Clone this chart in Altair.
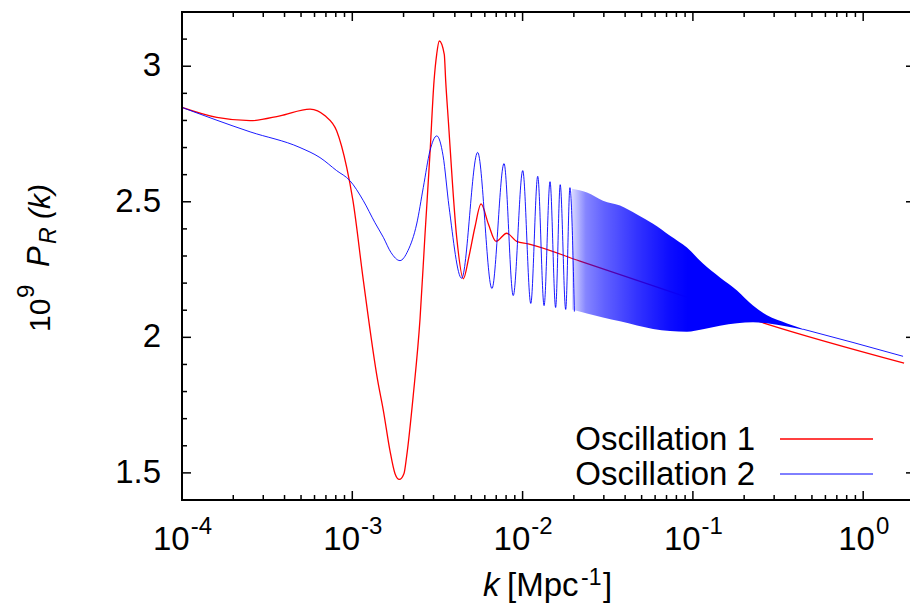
import altair as alt
import pandas as pd

FONT = "Liberation Sans"

# ---------------- data ----------------
# Oscillation 1 (red)
red_k = [1.00e-4, 1.60e-4, 2.51e-4, 3.76e-4, 5.65e-4, 6.92e-4, 8.09e-4, 9.27e-4,
         1.009e-3, 1.161e-3, 1.409e-3, 1.521e-3, 1.663e-3, 1.780e-3, 1.888e-3, 2.012e-3,
         2.084e-3, 2.280e-3, 2.500e-3, 2.673e-3, 2.858e-3, 3.020e-3, 3.130e-3, 3.243e-3,
         3.468e-3, 3.535e-3, 3.664e-3, 4.102e-3, 4.487e-3, 4.842e-3, 5.248e-3, 5.702e-3,
         6.295e-3, 6.982e-3, 8.072e-3, 9.226e-3, 1.079e-2, 2.173e-2, 8.395e-2, 0.2723, 1.738]
red_p = [2.848, 2.811, 2.799, 2.817, 2.842, 2.817, 2.762, 2.627,
         2.504, 2.210, 1.841, 1.731, 1.583, 1.498, 1.476, 1.498,
         1.560, 1.786, 2.070, 2.380, 2.677, 2.946, 3.044, 3.093,
         3.044, 2.946, 2.799, 2.369, 2.216, 2.298, 2.406, 2.492,
         2.418, 2.354, 2.384, 2.354, 2.345, 2.281, 2.157, 2.049, 1.905]

# Oscillation 2 (blue), resolved oscillations
blue_k = [1.00e-4, 2.51e-4, 4.93e-4, 6.46e-4, 8.09e-4, 9.68e-4, 1.161e-3, 1.358e-3,
          1.521e-3, 1.687e-3, 1.905e-3, 2.123e-3, 2.388e-3, 2.612e-3, 2.858e-3,
          3.133e-3, 3.412e-3, 3.698e-3, 4.385e-3, 5.445e-3, 6.607e-3, 7.780e-3,
          8.810e-3, 1.002e-2, 1.117e-2, 1.227e-2, 1.337e-2, 1.449e-2, 1.563e-2,
          1.663e-2, 1.791e-2, 1.897e-2, 2.014e-2]
blue_p = [2.848, 2.758, 2.700, 2.663, 2.615, 2.578, 2.504, 2.423,
          2.369, 2.313, 2.283, 2.320, 2.418, 2.553, 2.688,
          2.743, 2.670, 2.482, 2.218, 2.682, 2.180, 2.641,
          2.154, 2.615, 2.125, 2.594, 2.117, 2.574, 2.110,
          2.563, 2.103, 2.552, 2.095]

# Oscillation 2, dense oscillation band (upper / lower envelope)
band_k = [1.950e-2, 2.388e-2, 2.965e-2, 3.733e-2, 4.699e-2, 5.834e-2, 7.345e-2,
          9.226e-2, 0.1146, 0.1442, 0.1816, 0.2254, 0.2723, 0.3573, 0.4436]
band_hi = [2.548, 2.534, 2.504, 2.486, 2.453, 2.419, 2.375,
           2.331, 2.272, 2.221, 2.173, 2.117, 2.081, 2.051, 2.031]
band_lo = [2.103, 2.088, 2.073, 2.059, 2.044, 2.031, 2.023,
           2.021, 2.030, 2.043, 2.052, 2.056, 2.052, 2.040, 2.028]

# Oscillation 2, tail after the oscillations die out
tail_k = [0.4436, 0.871, 1.714]
tail_p = [2.030, 1.981, 1.930]

series_names = ["Oscillation 1", "Oscillation 2"]
series_colors = ["#ff0000", "#0000ff"]

# axis ticks / labels
y_major = [1.5, 2.0, 2.5, 3.0]
y_major_text = ["1.5", "2", "2.5", "3"]
y_minor = [1.6, 1.7, 1.8, 1.9, 2.1, 2.2, 2.3, 2.4, 2.6, 2.7, 2.8, 2.9, 3.1]
x_major = [1e-4, 1e-3, 1e-2, 1e-1]
x_major_exp = ["-4", "-3", "-2", "-1"]
x_zero = [1.0]
x_zero_exp = ["0"]
X_MAX = 1.883
x_minor = [m * 10.0 ** e for e in range(-4, 1) for m in range(2, 10) if m * 10.0 ** e < X_MAX]

# ---------------- chart ----------------
W, H = 728, 488
xs = alt.Scale(type="log", domain=[1e-4, X_MAX], nice=False)
ys = alt.Scale(domain=[1.4, 3.2], nice=False, zero=False)


def X(f):
    return alt.X(f, scale=xs, axis=None)


def Y(f):
    return alt.Y(f, scale=ys, axis=None)


red = alt.Chart(pd.DataFrame({"k": red_k, "p": red_p})).mark_line(
    color=series_colors[0], strokeWidth=1.3, interpolate="monotone"
).encode(x=X("k:Q"), y=Y("p:Q"))

band = alt.Chart(pd.DataFrame({"k": band_k, "hi": band_hi, "lo": band_lo})).mark_area(
    interpolate="monotone",
    color=alt.Gradient(
        gradient="linear", x1=0, x2=1, y1=0, y2=0,
        stops=[
            alt.GradientStop(color="rgba(0,0,255,0.15)", offset=0),
            alt.GradientStop(color="rgba(0,0,255,0.48)", offset=0.06),
            alt.GradientStop(color="rgba(0,0,255,0.62)", offset=0.14),
            alt.GradientStop(color="rgba(0,0,255,0.80)", offset=0.28),
            alt.GradientStop(color="rgba(0,0,255,0.95)", offset=0.42),
            alt.GradientStop(color="rgba(0,0,255,1)", offset=0.50),
            alt.GradientStop(color="rgba(0,0,255,1)", offset=1),
        ],
    ),
).encode(x=X("k:Q"), y=Y("hi:Q"), y2="lo:Q")

blue = alt.Chart(pd.DataFrame({"k": blue_k, "p": blue_p})).mark_line(
    color=series_colors[1], strokeWidth=0.9, interpolate="monotone"
).encode(x=X("k:Q"), y=Y("p:Q"))

tail = alt.Chart(pd.DataFrame({"k": tail_k, "p": tail_p})).mark_line(
    color=series_colors[1], strokeWidth=0.9, interpolate="monotone"
).encode(x=X("k:Q"), y=Y("p:Q"))


def yticks(vals, x1, x2):
    return alt.Chart(pd.DataFrame({"v": vals})).mark_rule(color="black", strokeWidth=1.5).encode(
        y=Y("v:Q"), x=alt.value(x1), x2=alt.value(x2))


def xticks(vals, y1, y2):
    return alt.Chart(pd.DataFrame({"v": vals})).mark_rule(color="black", strokeWidth=1.5).encode(
        x=X("v:Q"), y=alt.value(y1), y2=alt.value(y2))


def one():
    return pd.DataFrame({"v": [0]})


borders = [
    alt.Chart(one()).mark_rule(color="black", strokeWidth=2).encode(
        x=alt.value(0), x2=alt.value(W), y=alt.value(0)),
    alt.Chart(one()).mark_rule(color="black", strokeWidth=2).encode(
        x=alt.value(0), x2=alt.value(W), y=alt.value(H)),
    alt.Chart(one()).mark_rule(color="black", strokeWidth=2).encode(
        x=alt.value(0), y=alt.value(-1), y2=alt.value(H + 1)),
]

all_x_major = x_major + x_zero
ticks = [
    yticks(y_major, 0, 9), yticks(y_minor, 0, 5), yticks(y_major, W - 4, W),
    xticks(all_x_major, H, H - 9), xticks(x_minor, H, H - 5),
    xticks(all_x_major, 0, 9), xticks(x_minor, 0, 5),
]

ylabels = alt.Chart(pd.DataFrame({"v": y_major, "t": y_major_text})).mark_text(
    font=FONT, fontSize=33, align="right", baseline="middle", color="black", dx=-21
).encode(x=alt.value(0), y=Y("v:Q"), text="t:N")


def xlabels(vals, exps, dx10):
    df = pd.DataFrame({"k": vals, "base": ["10"] * len(vals), "e": exps})
    base = alt.Chart(df).mark_text(font=FONT, fontSize=33, align="right", baseline="alphabetic",
                                   dx=dx10, color="black").encode(
        x=X("k:Q"), y=alt.value(538), text="base:N")
    sup = alt.Chart(df).mark_text(font=FONT, fontSize=24, align="left", baseline="alphabetic",
                                  dx=dx10 + 1, color="black").encode(
        x=X("k:Q"), y=alt.value(522), text="e:N")
    return [base, sup]


def txt(s, x, y, size, italic=False, angle=0, align="left"):
    return alt.Chart(pd.DataFrame({"t": [s]})).mark_text(
        font=FONT, fontSize=size, fontStyle="italic" if italic else "normal",
        angle=angle, align=align, baseline="alphabetic", color="black"
    ).encode(x=alt.value(x), y=alt.value(y), text="t:N")


labels = xlabels(x_major, x_major_exp, 7.7) + xlabels(x_zero, x_zero_exp, 11.7)

# x axis title: k [Mpc^-1]
xtitle = [
    txt("k", 301, 584, 33, italic=True),
    txt("[Mpc", 325, 584, 33),
    txt("-1", 399, 573, 23),
    txt("]", 421, 584, 33),
]
# y axis title: 10^9 P_R (k)
ytitle = [
    txt("10", -132, 320, 30, angle=270),
    txt("9", -148, 286, 24, angle=270),
    txt("P", -133, 255, 31, italic=True, angle=270),
    txt("R", -126, 232, 23, italic=True, angle=270),
    txt("(k)", -132, 207, 30, italic=True, angle=270),
]

# legend (text left, line sample right, as in gnuplot)
legend = [
    txt(series_names[0], 573, 438, 33, align="right"),
    txt(series_names[1], 573, 473, 33, align="right"),
    alt.Chart(one()).mark_rule(color=series_colors[0], strokeWidth=1.5).encode(
        x=alt.value(598), x2=alt.value(691), y=alt.value(427)),
    alt.Chart(one()).mark_rule(color=series_colors[1], strokeWidth=1).encode(
        x=alt.value(598), x2=alt.value(691), y=alt.value(462)),
]

chart = alt.layer(
    red, band, blue, tail, *borders, *ticks, ylabels, *labels, *xtitle, *ytitle, *legend
).properties(
    width=W, height=H,
    padding={"left": 182, "top": 12, "right": 0, "bottom": 108},
    autosize=alt.AutoSizeParams(type="none"),
    background="white",
).configure_view(stroke=None)

chart.save("out.html", embed_options={"renderer": "svg", "actions": False})
